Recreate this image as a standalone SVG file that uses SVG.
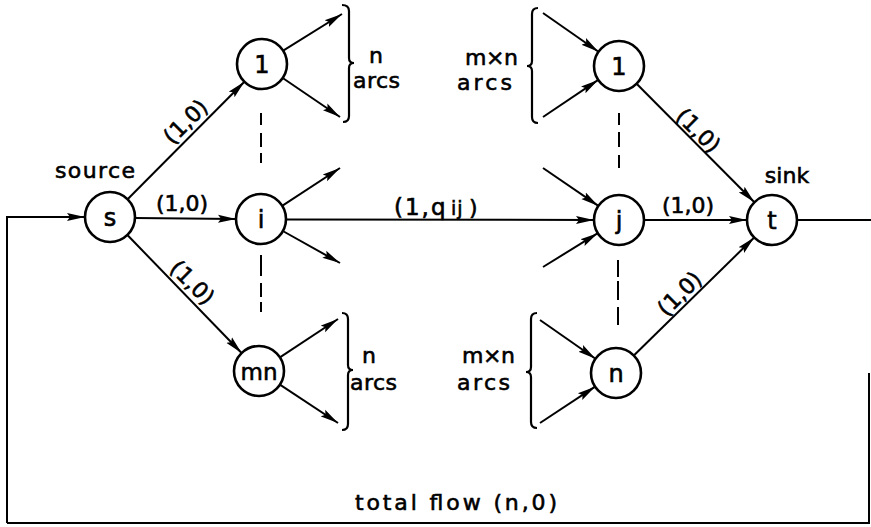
<svg xmlns="http://www.w3.org/2000/svg" width="871" height="527" viewBox="0 0 871 527">
<style>
.n circle{fill:#fff;stroke:#000;stroke-width:2.6}
.n text{font-family:"DejaVu Sans",sans-serif;font-size:24px;text-anchor:middle;fill:#000;stroke:#000;stroke-width:0.6}
.e{stroke:#000;stroke-width:2;fill:none}
.a{marker-end:url(#ah)}
.d{stroke:#000;stroke-width:2;fill:none}
.br{stroke:#000;stroke-width:2.2;fill:none}
.t{font-family:"DejaVu Sans",sans-serif;font-size:22px;fill:#000;stroke:#000;stroke-width:0.6}
.m{text-anchor:middle}
</style>
<defs>
<marker id="ah" viewBox="0 0 18 10" refX="18" refY="5" markerWidth="18" markerHeight="10" markerUnits="userSpaceOnUse" orient="auto">
<path d="M0,1 L18,5 L0,9 L3,5 Z" fill="#000"/>
</marker>
</defs>
<rect width="871" height="527" fill="#fff"/>
<g id="connectors">
<path class="e a" d="M7,523 L7,217 L85,217"/>
<path class="e" d="M7,523 L869,523 L869,373"/>
<path class="e" d="M797,220 L871,220"/>
<path class="e a" d="M127.6,199.3 L244.4,81.7"/>
<path class="e a" d="M135,218 L236,219"/>
<path class="e a" d="M127.4,235 L241.6,353"/>
<path class="e a" d="M283.2,50.7 L342,14"/>
<path class="e a" d="M282.7,78 L340,117"/>
<path class="e a" d="M282.9,205.3 L340,168"/>
<path class="e a" d="M283.7,231.5 L340,263"/>
<path class="e a" d="M279.9,357.3 L338,319"/>
<path class="e a" d="M279.9,384.7 L338,423"/>
<path class="e a" d="M286,219.5 L594,220"/>
<path class="e a" d="M543,13 L598.5,51.7"/>
<path class="e a" d="M543,117 L598.2,79.9"/>
<path class="e a" d="M543,168 L598.4,205.9"/>
<path class="e a" d="M543,267 L597.8,233.2"/>
<path class="e a" d="M540,320 L595.5,358.7"/>
<path class="e a" d="M540,423 L595.1,386.7"/>
<path class="e a" d="M636.6,83.7 L754.4,202.3"/>
<path class="e a" d="M644,220 L747,220"/>
<path class="e a" d="M633.8,355.5 L754.2,237.5"/>
<path class="d" d="M261,113 L261,125 M261,133 L261,147 M261,153 L261,163"/>
<path class="d" d="M261,255 L261,276 M261,283 L261,297 M261,302 L261,312"/>
<path class="d" d="M619,113 L619,125 M619,132 L619,147 M619,155 L619,168"/>
<path class="d" d="M618,260 L618,277 M618,281 L618,300 M618,307 L618,325"/>
</g>
<g id="braces">
<path class="br" d="M342,5 Q349,5 349,11 L349,58 Q349,63 354,63 Q349,63 349,68 L349,116 Q349,122 343,122"/>
<path class="br" d="M342,313 Q348,313 348,319 L348,365 Q348,370 353,370 Q348,370 348,375 L348,424 Q348,430 342,430"/>
<path class="br" d="M538,8 Q532,8 532,14 L532,61 Q532,66 527,66 Q532,66 532,71 L532,117 Q532,123 538,123"/>
<path class="br" d="M537,313 Q531,313 531,319 L531,367 Q531,372 526,372 Q531,372 531,377 L531,422 Q531,428 537,428"/>
</g>
<g id="node-s" class="n"><circle cx="110" cy="217" r="25"/><text x="110" y="226">s</text></g>
<g id="node-1L" class="n"><circle cx="262" cy="64" r="25"/><text x="262" y="73">1</text></g>
<g id="node-i" class="n"><circle cx="261" cy="219" r="25"/><text x="261" y="228">i</text></g>
<g id="node-mn" class="n"><circle cx="259" cy="371" r="25"/><text x="259" y="380" style="font-size:23px">mn</text></g>
<g id="node-1R" class="n"><circle cx="619" cy="66" r="25"/><text x="619" y="75">1</text></g>
<g id="node-j" class="n"><circle cx="619" cy="220" r="25"/><text x="619" y="229">j</text></g>
<g id="node-n" class="n"><circle cx="616" cy="373" r="25"/><text x="616" y="382">n</text></g>
<g id="node-t" class="n"><circle cx="772" cy="220" r="25"/><text x="772" y="229">t</text></g>
<g id="labels">
<text class="t" x="55" y="178" textLength="80">source</text>
<text class="t m" x="787" y="183">sink</text>
<text class="t m" transform="translate(191,127) rotate(-45)">(1,0)</text>
<text class="t m" x="182" y="211">(1,0)</text>
<text class="t m" transform="translate(187,288) rotate(45)">(1,0)</text>
<text class="t" y="215"><tspan x="394" style="font-size:23px;letter-spacing:2px">(1,q</tspan><tspan x="451" style="font-size:19px;letter-spacing:1px">ij</tspan><tspan x="469">)</tspan></text>
<text class="t m" transform="translate(693,136) rotate(45)">(1,0)</text>
<text class="t m" x="688" y="213">(1,0)</text>
<text class="t m" transform="translate(685,299) rotate(-45)">(1,0)</text>
<text class="t m" x="376" y="63">n</text>
<text class="t" x="353" y="88" textLength="47">arcs</text>
<text class="t m" x="369" y="363">n</text>
<text class="t" x="350" y="390" textLength="47">arcs</text>
<text class="t" x="465" y="65" textLength="53">m×n</text>
<text class="t" x="457" y="90" textLength="55">arcs</text>
<text class="t" x="462" y="363" textLength="53">m×n</text>
<text class="t" x="457" y="390" textLength="53">arcs</text>
<text class="t" x="355" y="510" textLength="202">total flow (n,0)</text>
</g>
</svg>
